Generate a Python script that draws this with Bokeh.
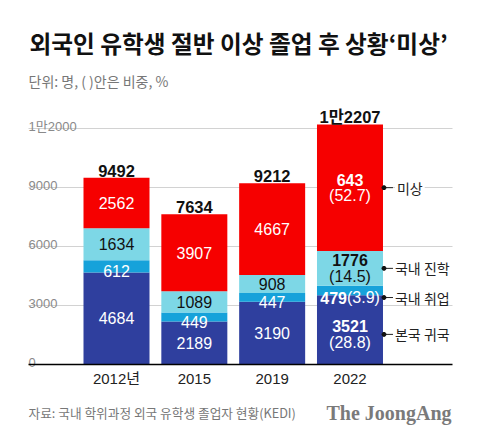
from bokeh.plotting import figure
from bokeh.models import Range1d, Label
from bokeh.embed import file_html
from bokeh.resources import INLINE
from bokeh.core.properties import value

# ---------------- data ----------------
years = ["2012년", "2015", "2019", "2022"]
home = [4684, 2189, 3190, 3521]        # 본국 귀국
employ = [612, 449, 447, 479]          # 국내 취업
study = [1634, 1089, 908, 1776]        # 국내 진학
unknown = [2562, 3907, 4667, 6431]     # 미상
unknown_text = ["2562", "3907", "4667", "643"]
share_2022 = ["(28.8)", "(3.9)", "(14.5)", "(52.7)"]   # home, employ, study, unknown
series_names = ["본국 귀국", "국내 취업", "국내 진학", "미상"]
y_ticks = [0, 3000, 6000, 9000, 12000]
y_tick_labels = ["0", "3000", "6000", "9000", "1만2000"]

title = "외국인 유학생 절반 이상 졸업 후 상황‘미상’"
subtitle = "단위: 명, ( )안은 비중, %"
source_note = "자료: 국내 학위과정 외국 유학생 졸업자 현황(KEDI)"
brand = "The JoongAng"

# ---------------- layout ----------------
W, H = 480, 439
CAT_PX = 77.83
FIRST_PX = 116
BASE_PX = 75
UNIT_PX = 59 / 3000
xs = 1 / CAT_PX
ys = 1 / UNIT_PX
x0 = -FIRST_PX * xs
y0 = -BASE_PX * ys


def px_x(px):
    return x0 + px * xs


colors = ["#2f3f9e", "#16a2da", "#7dd7e6", "#f60000"]
text_colors = ["white", "white", "#111111", "white"]
NUM_FONT = value("Liberation Sans, Noto Sans CJK KR")
KR_FONT = value("Noto Sans CJK KR")

p = figure(width=W, height=H, x_range=Range1d(x0, x0 + W * xs),
           y_range=Range1d(y0, y0 + H * ys), min_border=0,
           x_axis_type=None, y_axis_type=None, toolbar_location=None,
           output_backend="svg", outline_line_color=None)
p.background_fill_color = "white"
p.border_fill_color = "white"

# gridlines
grid_y = y_ticks[1:]
p.segment(x0=[px_x(28)] * len(grid_y), x1=[px_x(452)] * len(grid_y),
          y0=grid_y, y1=grid_y, line_color="#d2d2d2", line_width=1)

# y tick labels
p.text(x=[px_x(28)] * len(y_ticks), y=[t + 2.5 * ys for t in y_ticks],
       text=y_tick_labels, text_font=NUM_FONT, text_font_size="13px",
       text_color="#8a8a8a", text_align="left", text_baseline="alphabetic")

# stacked bars
xpos = list(range(len(years)))
series = [home, employ, study, unknown]
bottoms = [0] * len(years)
seg_centers = []
for vals, col in zip(series, colors):
    tops = [b + v for b, v in zip(bottoms, vals)]
    p.vbar(x=xpos, bottom=bottoms, top=tops, width=66 * xs,
           fill_color=col, line_color=None)
    seg_centers.append([(b + t) / 2 for b, t in zip(bottoms, tops)])
    bottoms = tops
totals = bottoms

# baseline
p.segment(x0=[px_x(28)], x1=[px_x(452)], y0=[0], y1=[0],
          line_color="black", line_width=1.5)

# segment labels, first three years
label_shift_px = [0, -4.5, 0, 0]
for si, vals in enumerate(series):
    texts = [str(v) for v in vals[:3]] if si != 3 else unknown_text[:3]
    p.text(x=xpos[:3], y=[c + label_shift_px[si] * ys for c in seg_centers[si][:3]],
           text=texts, text_font=NUM_FONT, text_font_size="16px",
           text_color=text_colors[si], text_align="center", text_baseline="middle")

# 2022 labels (two lines: number bold, share regular)
i = 3
block_shift_px = [-4.5, -7, 0, 0]
num_texts = [str(home[i]), str(employ[i]), str(study[i]), unknown_text[i]]
for si in [0, 2, 3]:
    c = seg_centers[si][i] + block_shift_px[si] * ys
    p.text(x=[i], y=[c + 8 * ys], text=[num_texts[si]], text_font=NUM_FONT,
           text_font_size="16px", text_font_style="bold",
           text_color=text_colors[si], text_align="center", text_baseline="middle")
    p.text(x=[i], y=[c - 8 * ys], text=[share_2022[si]], text_font=NUM_FONT,
           text_font_size="16px", text_color=text_colors[si],
           text_align="center", text_baseline="middle")
# employ single line
c = seg_centers[1][i] + block_shift_px[1] * ys
p.text(x=[i - 3 * xs], y=[c], text=[num_texts[1]], text_font=NUM_FONT,
       text_font_size="16px", text_font_style="bold", text_color="white",
       text_align="right", text_baseline="middle")
p.text(x=[i - 3 * xs], y=[c], text=[share_2022[1]], text_font=NUM_FONT,
       text_font_size="16px", text_color="white",
       text_align="left", text_baseline="middle")


# totals
def fmt_total(v):
    return f"{v // 10000}만{v % 10000}" if v >= 10000 else str(v)


p.text(x=xpos, y=[t + 7 * ys for t in totals], text=[fmt_total(t) for t in totals],
       text_font=NUM_FONT, text_font_size="16.5px", text_font_style="bold",
       text_color="#111111", text_align="center", text_baseline="alphabetic")

# x labels
p.text(x=xpos, y=[-14 * ys] * len(years), text=years, text_font=NUM_FONT,
       text_font_size="15px", text_color="#222222", text_align="center",
       text_baseline="middle")

# right-side series labels with leaders
edge = i + 33 * xs
lab_y = [seg_centers[si][i] + block_shift_px[si] * ys for si in range(4)]
p.segment(x0=[edge] * 4, x1=[edge + 10 * xs] * 4, y0=lab_y, y1=lab_y,
          line_color="#222222", line_width=1)
p.scatter(x=[edge + 1 * xs] * 4, y=lab_y, size=4, color="#111111")
for si in range(4):
    p.add_layout(Label(x=edge + 12 * xs, y=lab_y[si], text=series_names[si],
                       text_font=KR_FONT.value, text_font_size="14px",
                       text_color="#222222", text_baseline="middle",
                       background_fill_color="white" if si == 3 else None,
                       padding=2 if si == 3 else 0))

# titles and notes
p.add_layout(Label(x=29, y=H - 42, x_units="screen", y_units="screen", text=title,
                   text_font="Noto Sans CJK KR", text_font_style="bold",
                   text_font_size="23.7px", text_color="#111111", text_baseline="middle"))
p.add_layout(Label(x=28, y=H - 80, x_units="screen", y_units="screen", text=subtitle,
                   text_font="Noto Sans CJK KR", text_font_size="14px",
                   text_color="#777777", text_baseline="middle"))
p.add_layout(Label(x=28, y=H - 412, x_units="screen", y_units="screen", text=source_note,
                   text_font="Noto Sans CJK KR", text_font_size="12.7px",
                   text_color="#777777", text_baseline="middle"))
p.add_layout(Label(x=451, y=H - 412, x_units="screen", y_units="screen", text=brand,
                   text_font="Liberation Serif", text_font_style="bold",
                   text_font_size="20px", text_color="#7a7a7a", text_align="right",
                   text_baseline="middle"))

open("out.html", "w").write(file_html(p, INLINE))
